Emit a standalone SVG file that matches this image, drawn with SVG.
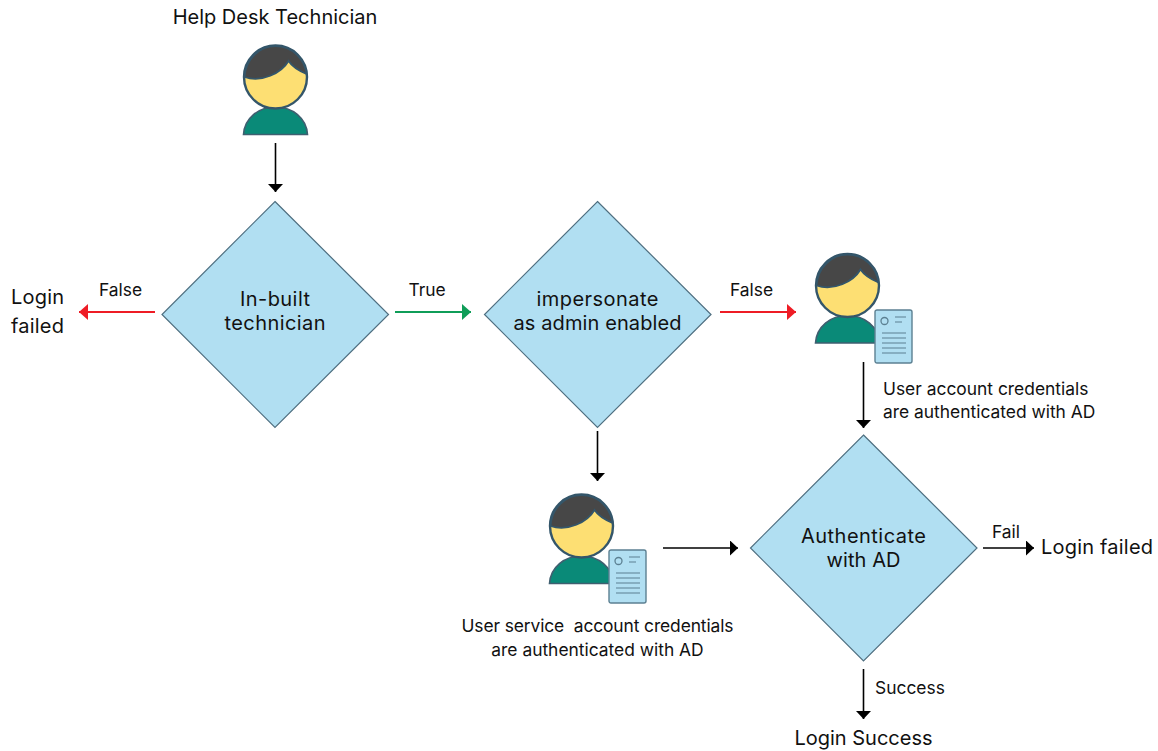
<svg xmlns="http://www.w3.org/2000/svg" width="1158" height="751" viewBox="0 0 1158 751">
<style>
text{font-family:"Inter","Noto Sans","Liberation Sans",sans-serif;fill:#111}
.l{font-size:20px}
.s{font-size:17.4px}
.m{text-anchor:middle}
.d{fill:#b1dff2;stroke:#4f6f80;stroke-width:1.2}
.c{fill:none;stroke-width:1.6}
.k{stroke:#000}.r{stroke:#ee1c25;stroke-width:1.8}.g{stroke:#0f9d58;stroke-width:1.8}
</style>
<defs>
<marker id="ak" markerUnits="userSpaceOnUse" markerWidth="10" markerHeight="16" refX="8" refY="7.500" orient="auto"><path d="M0 0L8 7.500L0 15z" fill="#000"/></marker>
<marker id="ar" markerUnits="userSpaceOnUse" markerWidth="10" markerHeight="16" refX="9" refY="8" orient="auto"><path d="M0 0L9 8L0 16z" fill="#ee1c25"/></marker>
<marker id="ag" markerUnits="userSpaceOnUse" markerWidth="10" markerHeight="16" refX="9" refY="8" orient="auto"><path d="M0 0L9 8L0 16z" fill="#0f9d58"/></marker>
<g id="person">
<path d="M-32 57.500C-31 41 -17 30 0 30C17 30 31 41 32 57.500Z" fill="#0a8a78" stroke="#3f5f70" stroke-width="1.600"/>
<circle cx="0" cy="0" r="31.500" fill="#fddf73" stroke="#34566a" stroke-width="2.400"/>
<path d="M-31 0C-30 -18 -16 -31 0 -31C17 -31 29 -18 31 -3C24 -6 17 -10 13 -16C6 -4 -14 6 -31 0Z" fill="#474747" stroke="#34566a" stroke-width="1.800"/>
</g>
<g id="doc">
<rect x="0" y="0" width="37" height="53" rx="2" fill="#b1dff2" stroke="#5c8092" stroke-width="1.400"/>
<circle cx="9.500" cy="11" r="3.500" fill="none" stroke="#5c8092" stroke-width="1.300"/>
<path d="M20 7H31M20 12H27M7 23H31M7 28H31M7 33H31M7 38H31M7 43H31" stroke="#5c8092" stroke-width="1.200" fill="none"/>
</g>
</defs>
<g id="connectors">
<path class="c k" d="M275.500 143V192" marker-end="url(#ak)"/>
<path class="c r" d="M155 312H79" marker-end="url(#ar)"/>
<path class="c g" d="M395 312H471" marker-end="url(#ag)"/>
<path class="c r" d="M720 312H796" marker-end="url(#ar)"/>
<path class="c k" d="M597.500 431V481" marker-end="url(#ak)"/>
<path class="c k" d="M863.500 362V428" marker-end="url(#ak)"/>
<path class="c k" d="M663 548H738" marker-end="url(#ak)"/>
<path class="c k" d="M983 548H1034" marker-end="url(#ak)"/>
<path class="c k" d="M863.500 669V719" marker-end="url(#ak)"/>
</g>
<g id="technician"><text class="l m" x="275" y="24">Help Desk Technician</text><use href="#person" x="275.500" y="77"/></g>
<g id="inbuilt"><path class="d" d="M275 201.500L388.500 314.500L275 427.500L162 314.500Z"/><text class="l m" x="275" y="306" textLength="70">In-built</text><text class="l m" x="275" y="330" textLength="101">technician</text></g>
<g id="impersonate"><path class="d" d="M597.500 201.500L711 314.500L597.500 427.500L484.500 314.500Z"/><text class="l m" x="597.500" y="306" textLength="122">impersonate</text><text class="l m" x="597.500" y="330" textLength="168">as admin enabled</text></g>
<g id="authenticate"><path class="d" d="M863.500 435L977 548L863.500 661L750.500 548Z"/><text class="l m" x="863.500" y="543" textLength="125">Authenticate</text><text class="l m" x="863.500" y="567" textLength="74">with AD</text></g>
<g id="login-failed-left"><text class="l" x="11" y="304" textLength="53">Login</text><text class="l" x="11" y="333" textLength="53">failed</text></g>
<g id="login-failed-right"><text class="l" x="1041" y="554" textLength="112">Login failed</text></g>
<g id="login-success"><text class="l m" x="863.500" y="745" textLength="138">Login Success</text></g>
<g id="user-account"><use href="#person" x="847.500" y="285.500"/><use href="#doc" x="875" y="310"/></g>
<g id="service-account"><use href="#person" x="581.500" y="526"/><use href="#doc" x="609" y="550"/></g>
<g id="labels">
<text class="s m" x="120.500" y="296">False</text>
<text class="s m" x="427" y="296">True</text>
<text class="s m" x="751.500" y="296">False</text>
<text class="s" x="883" y="395">User account credentials</text>
<text class="s" x="883" y="418">are authenticated with AD</text>
<text class="s m" x="597.500" y="632" xml:space="preserve" textLength="272">User service  account credentials</text>
<text class="s m" x="597.500" y="656">are authenticated with AD</text>
<text class="s" x="992" y="538">Fail</text>
<text class="s" x="875" y="694">Success</text>
</g>
</svg>
